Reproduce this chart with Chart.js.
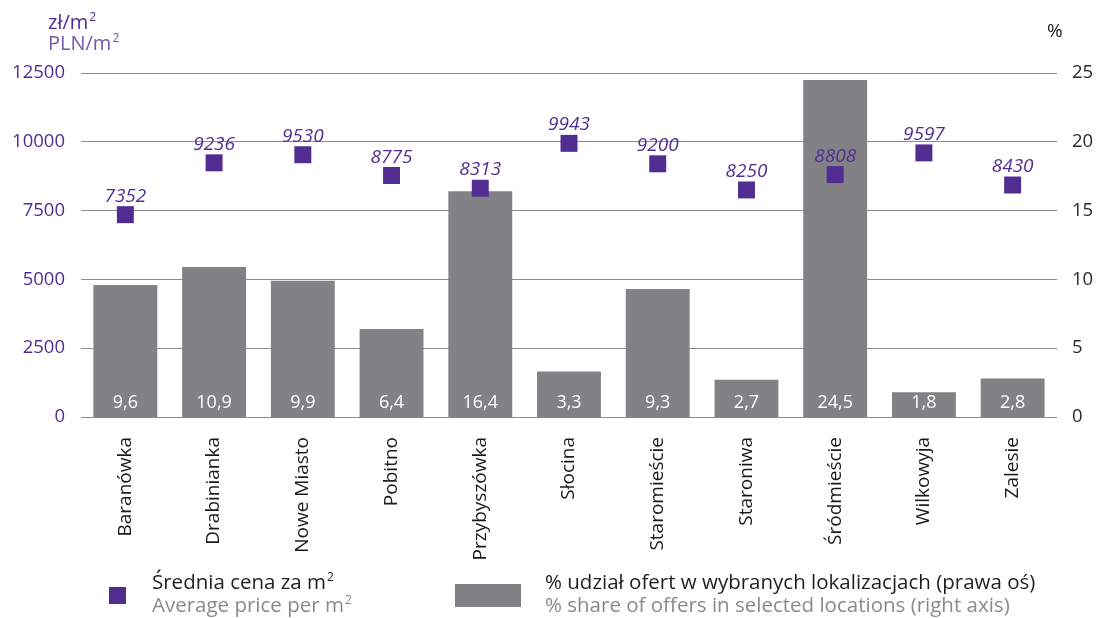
<!DOCTYPE html>
<html>
<head>
<meta charset="utf-8">
<script src="https://cdn.jsdelivr.net/npm/chart.js@4/dist/chart.umd.min.js"></script>
<style>
  html, body { margin: 0; padding: 0; background: #ffffff; }
  #wrap { width: 1096px; height: 618px; }
</style>
</head>
<body>
<div id="wrap"><canvas id="c" width="1096" height="618"></canvas></div>
<script>
// Districts
const categories = ['Baranówka', 'Drabinianka', 'Nowe Miasto', 'Pobitno', 'Przybyszówka',
  'Słocina', 'Staromieście', 'Staroniwa', 'Śródmieście', 'Wilkowyja', 'Zalesie'];
// Average price, PLN per m² (left axis)
const avgPrice = [7352, 9236, 9530, 8775, 8313, 9943, 9200, 8250, 8808, 9597, 8430];
// Share of offers in each location, % (right axis)
const offerShare = [9.6, 10.9, 9.9, 6.4, 16.4, 3.3, 9.3, 2.7, 24.5, 1.8, 2.8];
// Axis ranges
const priceTicks = [0, 2500, 5000, 7500, 10000, 12500];
const shareTicks = [0, 5, 10, 15, 20, 25];

const PURPLE = '#512d92';
const PURPLE_LIGHT = '#7458ad';
const GREY_BAR = '#828286';
const FONT = "'Open Sans', 'Noto Sans', sans-serif";

// text followed by a small raised "2"
function textWithSquare(ctx, text, x, y, size) {
  ctx.font = size + "px " + FONT;
  ctx.fillText(text, x, y);
  const w = ctx.measureText(text).width;
  ctx.font = Math.round(size * 0.6) + "px " + FONT;
  ctx.fillText('2', x + w + 1, y - size * 0.38);
}

const labelsPlugin = {
  id: 'labels',
  afterDatasetsDraw(chart) {
    const ctx = chart.ctx;
    ctx.save();
    // values inside the bars, near the base
    const barMeta = chart.getDatasetMeta(1);
    ctx.fillStyle = '#ffffff';
    ctx.font = "18px " + FONT;
    ctx.textAlign = 'center';
    ctx.textBaseline = 'middle';
    barMeta.data.forEach((bar, i) => {
      ctx.fillText(offerShare[i].toFixed(1).replace('.', ','), bar.x, chart.chartArea.bottom - 14);
    });
    // price labels above the markers
    const ptMeta = chart.getDatasetMeta(0);
    ctx.fillStyle = PURPLE;
    ctx.font = "italic 19px " + FONT;
    ctx.textBaseline = 'alphabetic';
    ptMeta.data.forEach((pt, i) => {
      ctx.fillText(String(avgPrice[i]), pt.x, pt.y - 13);
    });
    ctx.restore();
  },
  afterDraw(chart) {
    const ctx = chart.ctx;
    ctx.save();
    // axis units
    ctx.textAlign = 'left';
    ctx.textBaseline = 'alphabetic';
    ctx.fillStyle = PURPLE;
    textWithSquare(ctx, 'zł/m', 48, 29, 20);
    ctx.fillStyle = PURPLE_LIGHT;
    textWithSquare(ctx, 'PLN/m', 48, 50, 20);
    ctx.fillStyle = '#222222';
    ctx.font = "19px " + FONT;
    ctx.fillText('%', 1047, 37);

    // legend
    ctx.fillStyle = PURPLE;
    ctx.fillRect(109, 587, 17, 17);
    ctx.fillStyle = '#1e1e1e';
    textWithSquare(ctx, 'Średnia cena za m', 152, 589, 20.5);
    ctx.fillStyle = '#8a8a8a';
    textWithSquare(ctx, 'Average price per m', 152, 612, 20.5);

    ctx.fillStyle = GREY_BAR;
    ctx.fillRect(455, 584, 66, 23);
    ctx.font = "20.5px " + FONT;
    ctx.fillStyle = '#1e1e1e';
    ctx.fillText('% udział ofert w wybranych lokalizacjach (prawa oś)', 545, 589);
    ctx.fillStyle = '#8a8a8a';
    ctx.fillText('% share of offers in selected locations (right axis)', 545, 612);
    ctx.restore();
  }
};

new Chart(document.getElementById('c'), {
  type: 'bar',
  data: {
    labels: categories,
    datasets: [
      {
        type: 'line',
        label: 'Średnia cena za m²',
        data: avgPrice,
        yAxisID: 'y',
        showLine: false,
        pointStyle: 'rect',
        pointRadius: 12,
        pointHoverRadius: 12,
        pointBackgroundColor: PURPLE,
        pointBorderWidth: 0,
        borderColor: PURPLE,
        order: 0
      },
      {
        type: 'bar',
        label: '% udział ofert w wybranych lokalizacjach (prawa oś)',
        data: offerShare,
        yAxisID: 'y1',
        backgroundColor: GREY_BAR,
        barPercentage: 0.72,
        categoryPercentage: 1.0,
        order: 1
      }
    ]
  },
  options: {
    responsive: false,
    animation: false,
    devicePixelRatio: 1,
    layout: { padding: { top: 73, left: 0, right: 0, bottom: 0 } },
    plugins: {
      legend: { display: false },
      tooltip: { enabled: false }
    },
    scales: {
      x: {
        grid: { display: false },
        border: { display: false },
        ticks: {
          autoSkip: false,
          minRotation: 90,
          maxRotation: 90,
          padding: 12,
          color: '#1a1a1a',
          font: { family: FONT, size: 19 }
        },
        afterFit(scale) { scale.height = 201; }
      },
      y: {
        position: 'left',
        min: priceTicks[0],
        max: priceTicks[priceTicks.length - 1],
        afterBuildTicks(scale) { scale.ticks = priceTicks.map(v => ({ value: v })); },
        grid: { color: '#8c8c8c', lineWidth: 1, drawTicks: false },
        border: { display: false },
        ticks: {
          padding: 16,
          color: PURPLE,
          font: { family: FONT, size: 18.5 },
          callback: (v) => String(v)
        },
        afterFit(scale) { scale.width = 81; }
      },
      y1: {
        position: 'right',
        min: shareTicks[0],
        max: shareTicks[shareTicks.length - 1],
        afterBuildTicks(scale) { scale.ticks = shareTicks.map(v => ({ value: v })); },
        grid: { display: false, drawTicks: false },
        border: { display: false },
        ticks: {
          padding: 15,
          color: '#2a2a2a',
          font: { family: FONT, size: 18.5 },
          callback: (v) => String(v)
        },
        afterFit(scale) { scale.width = 39; }
      }
    }
  },
  plugins: [labelsPlugin]
});
</script>
</body>
</html>
